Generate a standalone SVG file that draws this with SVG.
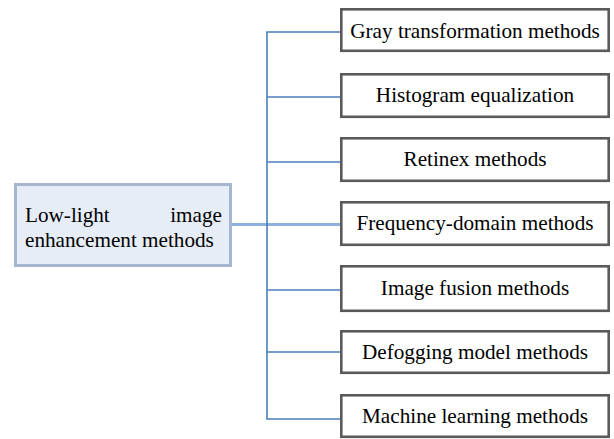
<svg xmlns="http://www.w3.org/2000/svg" width="614" height="439" viewBox="0 0 614 439">
<style>
.box{fill:#ffffff;stroke:#5a5a5a;stroke-width:2.6}
.root{fill:#e7edf7;stroke:#a6b6ce;stroke-width:3}
.t{font-family:'Liberation Serif',serif;font-size:21.2px;fill:#000}
.c{text-anchor:middle}
.ln{stroke:#4a7ebb;stroke-width:1.6;fill:none}
.main{stroke:#8eb0dc;stroke-width:3;fill:none}
</style>
<rect width="614" height="439" fill="#ffffff"/>
<g id="connectors">
<line class="main" x1="232" y1="224.5" x2="341" y2="224.5"/>
<polyline class="ln" points="341,32 267,32 267,419 343,419"/>
<line class="ln" x1="267" y1="97" x2="341" y2="97"/>
<line class="ln" x1="267" y1="162" x2="341" y2="162"/>
<line class="ln" x1="267" y1="290" x2="341" y2="290"/>
<line class="ln" x1="267" y1="352" x2="341" y2="352"/>
</g>
<g id="root">
<rect class="root" x="15.5" y="184.5" width="215" height="81"/>
<text class="t" x="25" y="221.5">Low-light</text>
<text class="t" x="222" y="221.5" text-anchor="end">image</text>
<text class="t" x="25" y="246.5">enhancement methods</text>
</g>
<g id="n1"><rect class="box" x="341.3" y="9.3" width="267.4" height="41.5"/><text class="t c" x="475" y="38">Gray transformation methods</text></g>
<g id="n2"><rect class="box" x="341.3" y="74.3" width="267.4" height="42.5"/><text class="t c" x="475" y="102">Histogram equalization</text></g>
<g id="n3"><rect class="box" x="341.3" y="138.3" width="267.4" height="42.5"/><text class="t c" x="475" y="166">Retinex methods</text></g>
<g id="n4"><rect class="box" x="341.3" y="202.3" width="267.4" height="42.5"/><text class="t c" x="475" y="230">Frequency-domain methods</text></g>
<g id="n5"><rect class="box" x="341.3" y="266.3" width="267.4" height="44.5"/><text class="t c" x="475" y="295">Image fusion methods</text></g>
<g id="n6"><rect class="box" x="341.3" y="331.3" width="267.4" height="41.5"/><text class="t c" x="475" y="359">Defogging model methods</text></g>
<g id="n7"><rect class="box" x="341.3" y="395.3" width="267.4" height="41.5"/><text class="t c" x="475" y="423">Machine learning methods</text></g>
</svg>
